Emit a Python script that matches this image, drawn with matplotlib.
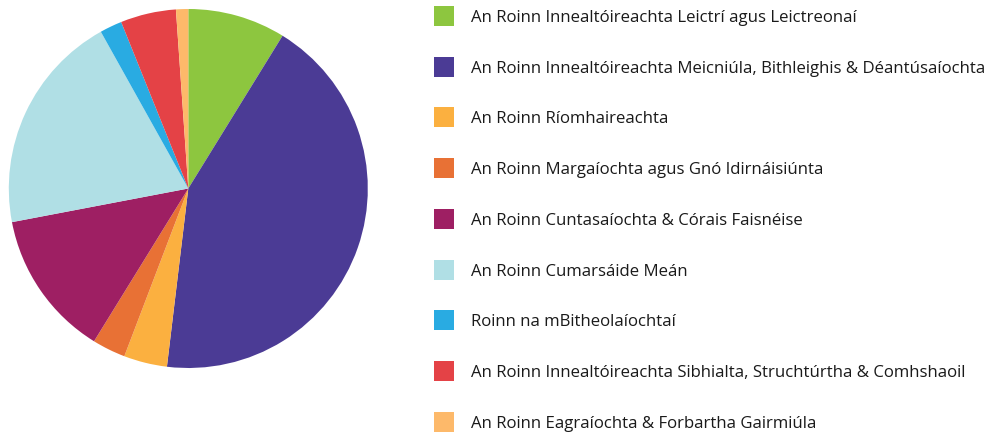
import matplotlib
matplotlib.use("Agg")
import matplotlib.pyplot as plt
from matplotlib.patches import Rectangle

# department names (legend order == slice order, clockwise from top)
labels = [
    "An Roinn Innealtóireachta Leictrí agus Leictreonaí",
    "An Roinn Innealtóireachta Meicniúla, Bithleighis & Déantúsaíochta",
    "An Roinn Ríomhaireachta",
    "An Roinn Margaíochta agus Gnó Idirnáisiúnta",
    "An Roinn Cuntasaíochta & Córais Faisnéise",
    "An Roinn Cumarsáide Meán",
    "Roinn na mBitheolaíochtaí",
    "An Roinn Innealtóireachta Sibhialta, Struchtúrtha & Comhshaoil",
    "An Roinn Eagraíochta & Forbartha Gairmiúla",
]

# share of each department (%)
shares = [8.8, 43.1, 3.9, 3.0, 13.2, 19.9, 2.0, 5.0, 1.1]

colors = ["#8dc63f", "#4b3b95", "#fbb040", "#e87135", "#9e1f63",
          "#b0dfe5", "#29abe2", "#e44246", "#fdb96a"]

plt.rcParams['font.family'] = ['Open Sans', 'DejaVu Sans']

W, H = 995, 437
fig = plt.figure(figsize=(W / 100, H / 100), dpi=100)

# pie axes: centre ~(188, 188) px from top-left, radius ~180 px
cx, cy, r = 188.3, 188.5, 179.5
ax = fig.add_axes([(cx - r) / W, (H - cy - r) / H, 2 * r / W, 2 * r / H])
wedges, _ = ax.pie(shares, colors=colors, startangle=90, counterclock=False,
                   radius=1, wedgeprops=dict(linewidth=0))
ax.set_xlim(-1, 1)
ax.set_ylim(-1, 1)
ax.set_aspect('equal')
ax.axis('off')

# legend drawn by hand: 20px swatches, rows ~50.7px apart
sq = 20
x0, y0, step = 434, 16, 50.7
for i, (lab, col) in enumerate(zip(labels, colors)):
    yc = H - (y0 + step * i)
    fig.add_artist(Rectangle((x0 / W, (yc - sq / 2) / H), sq / W, sq / H,
                             transform=fig.transFigure, facecolor=col,
                             edgecolor='none'))
    fig.text(471 / W, yc / H, lab, fontsize=12.1, color='#1a1a1a',
             va='center_baseline', ha='left')

fig.savefig('out.png', dpi=100)
